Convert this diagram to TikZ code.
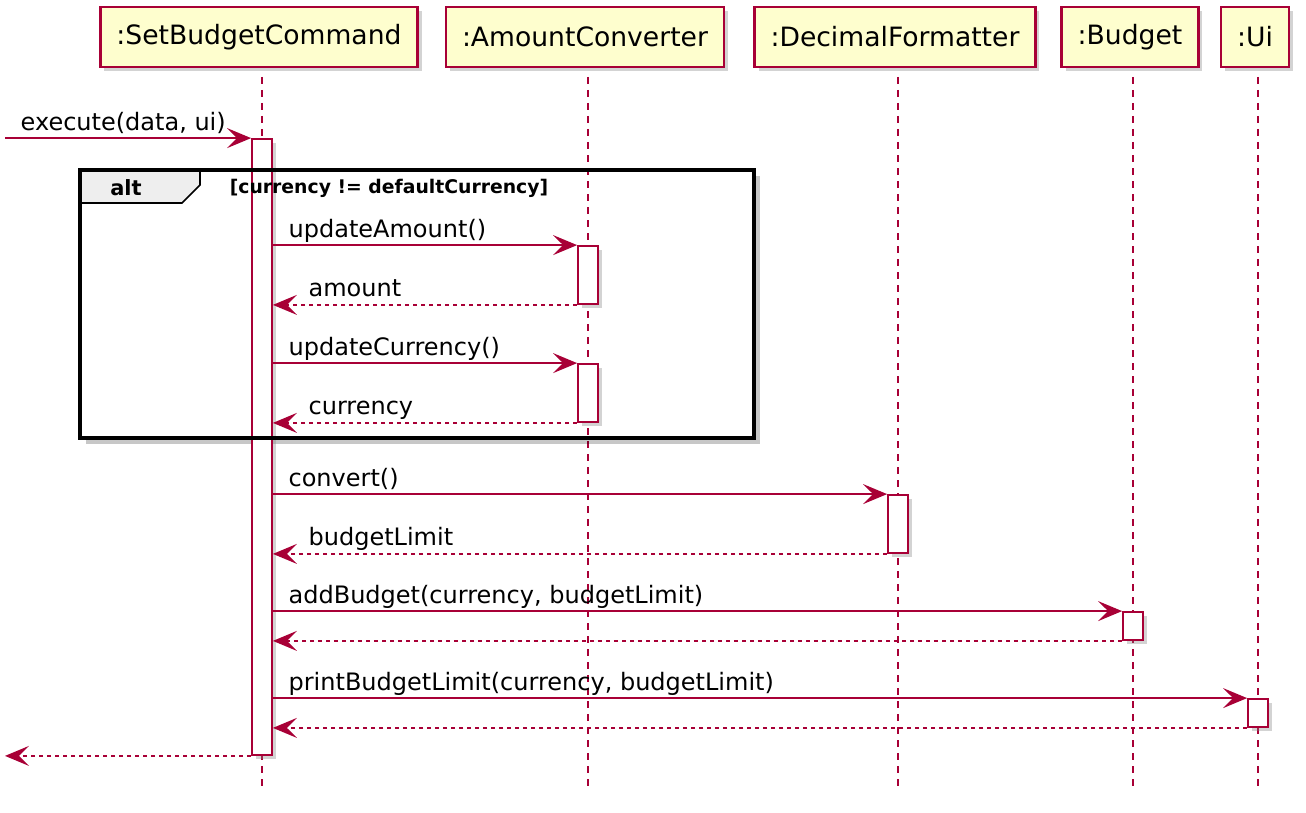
\documentclass[tikz,border=0pt]{standalone}
\usepackage{fontspec}
\setmainfont{DejaVu Sans}
\usepackage{tikz}
\usetikzlibrary{arrows.meta,shadows}
\definecolor{umlred}{HTML}{A80036}
\definecolor{umlfill}{HTML}{FEFECE}
\definecolor{tabgray}{HTML}{EEEEEE}

\tikzset{
  party/.style={draw=umlred, fill=umlfill, line width=1.2pt, inner xsep=8pt,
    minimum height=30pt, font=\fontsize{13.3}{15}\selectfont,
    drop shadow={shadow xshift=2pt, shadow yshift=-2pt, opacity=0.35}},
  lifeline/.style={umlred, line width=0.7pt, dash pattern=on 3.5pt off 3pt},
  actbar/.style={draw=umlred, fill=white, line width=0.9pt, minimum width=10pt,
    inner sep=0pt, drop shadow={shadow xshift=2pt, shadow yshift=-2pt, opacity=0.35}},
  msg/.style={umlred, line width=0.7pt, -{Stealth[length=12pt, width=10pt, inset=5pt]}},
  ret/.style={msg, dash pattern=on 2pt off 2pt},
  lbl/.style={anchor=base west, inner sep=0pt, yshift=4pt, text=black,
    font=\fontsize{12}{14}\selectfont},
}

\begin{document}
\begin{tikzpicture}[x=0.5pt, y=-0.5pt]
  \useasboundingbox (0,0) rectangle (1306,813);

  % participants
  \node[party] (sbc) at (259,37) {:SetBudgetCommand};
  \node[party] (ac) at (585,37) {:AmountConverter};
  \node[party] (df) at (895,37) {:DecimalFormatter};
  \node[party] (bg) at (1130,37) {:Budget};
  \node[party] (ui) at (1255,37) {:Ui};

  % lifelines
  \foreach \p/\x in {sbc/262, ac/588, df/898, bg/1133, ui/1258}
    \draw[lifeline] (\x,77) -- (\x,786);

  % shadow of the alt frame
  \fill[black, opacity=0.22] (86,438) rectangle (760,444);
  \fill[black, opacity=0.22] (754,176) rectangle (760,438);

  % activations
  \node[actbar, minimum height=308pt] (sbcbar) at (262,447) {};
  \node[actbar, minimum height=29pt] (acbarA) at (588,275) {};
  \node[actbar, minimum height=29pt] (acbarB) at (588,393) {};
  \node[actbar, minimum height=29pt] (dfbar) at (898,524) {};
  \node[actbar, minimum height=14pt] (bgbar) at (1133,626) {};
  \node[actbar, minimum height=14pt] (uibar) at (1258,713) {};

  % alt frame
  \draw[fill=tabgray, line width=0.8pt] (80,170) -- (200,170) -- (200,185) -- (182,203) -- (80,203);
  \draw[line width=1.6pt] (80,170) rectangle (754,438);
  \node[font=\bfseries\fontsize{10.5}{12}\selectfont] (alttag) at (126,188) {alt};
  \node[font=\bfseries\fontsize{9.4}{11}\selectfont] (guard) at (389,188) {[currency != defaultCurrency]};

  % messages
  \coordinate (leftx) at (5,0);
  \draw[msg] (sbcbar.north west -| leftx) -- (sbcbar.north west)
    node[lbl, pos=0, xshift=7.5pt] {execute(data, ui)};
  \draw[msg] (sbcbar.east |- acbarA.north) -- (acbarA.north west)
    node[lbl, pos=0, xshift=7.5pt] {updateAmount()};
  \draw[ret] (acbarA.south west) -- (sbcbar.east |- acbarA.south)
    node[lbl, pos=1, xshift=17.5pt] {amount};
  \draw[msg] (sbcbar.east |- acbarB.north) -- (acbarB.north west)
    node[lbl, pos=0, xshift=7.5pt] {updateCurrency()};
  \draw[ret] (acbarB.south west) -- (sbcbar.east |- acbarB.south)
    node[lbl, pos=1, xshift=17.5pt] {currency};
  \draw[msg] (sbcbar.east |- dfbar.north) -- (dfbar.north west)
    node[lbl, pos=0, xshift=7.5pt] {convert()};
  \draw[ret] (dfbar.south west) -- (sbcbar.east |- dfbar.south)
    node[lbl, pos=1, xshift=17.5pt] {budgetLimit};
  \draw[msg] (sbcbar.east |- bgbar.north) -- (bgbar.north west)
    node[lbl, pos=0, xshift=7.5pt] {addBudget(currency, budgetLimit)};
  \draw[ret] (bgbar.south west) -- (sbcbar.east |- bgbar.south);
  \draw[msg] (sbcbar.east |- uibar.north) -- (uibar.north west)
    node[lbl, pos=0, xshift=7.5pt] {printBudgetLimit(currency, budgetLimit)};
  \draw[ret] (uibar.south west) -- (sbcbar.east |- uibar.south);
  \draw[ret] (sbcbar.south west) -- (sbcbar.south west -| leftx);
\end{tikzpicture}
\end{document}
